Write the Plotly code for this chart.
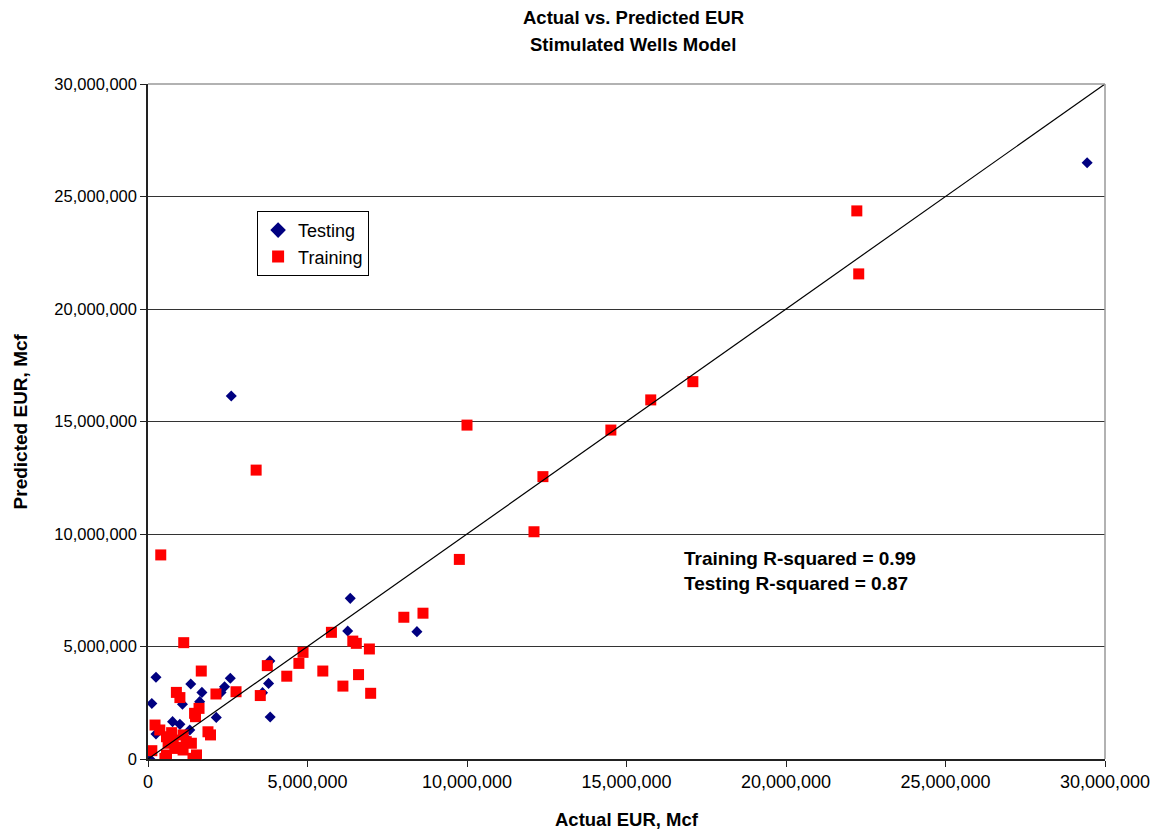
import plotly.graph_objects as go

# Testing (navy diamonds): actual EUR (MMcf), predicted EUR (MMcf)
test_actual_mm = [29.44, 2.61, 6.34, 6.26, 8.43, 3.82, 3.78, 3.59, 3.83, 0.25, 1.34, 2.58,
                  2.40, 2.29, 1.69, 0.12, 1.08, 1.62, 2.14, 0.77, 1.00, 1.31, 0.25, 0.06,
                  0.84, 1.15]
test_pred_mm = [26.50, 16.13, 7.14, 5.69, 5.66, 4.36, 3.36, 2.95, 1.87, 3.63, 3.33, 3.59,
                3.21, 2.96, 2.96, 2.47, 2.43, 2.55, 1.85, 1.66, 1.54, 1.29, 1.11, 0.00,
                0.62, 0.98]

# Training (red squares)
train_actual_mm = [1.12, 1.67, 0.89, 1.00, 2.13, 2.76, 3.52, 3.74, 4.35, 4.73, 4.86, 5.48,
                   5.75, 6.11, 6.42, 6.53, 6.60, 6.94, 6.98, 8.02, 8.62, 9.76, 10.00, 12.10,
                   12.38, 14.51, 15.76, 17.08, 22.22, 22.28, 3.39, 0.40,
                   1.60, 1.46, 1.49, 0.22, 0.37, 1.88, 1.96, 0.74, 0.58, 0.79, 1.10, 1.20,
                   1.36, 0.12, 0.58, 0.89, 1.10, 1.52, 1.41, 0.53, 0.63, 0.84]
train_pred_mm = [5.17, 3.91, 2.96, 2.73, 2.89, 2.99, 2.82, 4.15, 3.68, 4.25, 4.74, 3.91,
                 5.63, 3.24, 5.24, 5.14, 3.75, 4.89, 2.92, 6.30, 6.48, 8.87, 14.84, 10.10,
                 12.55, 14.62, 15.96, 16.77, 24.36, 21.56, 12.84, 9.07,
                 2.25, 2.03, 1.88, 1.51, 1.29, 1.21, 1.07, 1.17, 0.99, 0.84, 1.07, 0.77,
                 0.70, 0.37, 0.18, 0.52, 0.40, 0.18, 0.03, 0.03, 0.70, 0.47]

line_x = [0, 30_000_000]
line_y = [0, 30_000_000]

y_ticks = [0, 5_000_000, 10_000_000, 15_000_000, 20_000_000, 25_000_000, 30_000_000]
x_ticks = y_ticks

M = 1_000_000
fig = go.Figure()
fig.add_trace(go.Scatter(
    x=[v * M for v in test_actual_mm], y=[v * M for v in test_pred_mm],
    mode="markers", name="Testing",
    marker=dict(symbol="diamond", size=8.5, color="#000080", line=dict(width=0)),
))
fig.add_trace(go.Scatter(
    x=[v * M for v in train_actual_mm], y=[v * M for v in train_pred_mm],
    mode="markers", name="Training",
    marker=dict(symbol="square", size=11, color="#FF0000", line=dict(width=0)),
))
fig.add_trace(go.Scatter(
    x=line_x, y=line_y, mode="lines", showlegend=False,
    line=dict(color="black", width=1.2), hoverinfo="skip",
))

font_family = "Liberation Sans, Arial, sans-serif"
fig.update_layout(
    width=1162, height=829,
    margin=dict(l=148, r=50, t=84, b=70),
    paper_bgcolor="white", plot_bgcolor="white",
    font=dict(family=font_family, size=18, color="black"),
    showlegend=True,
    legend=dict(
        x=0.114, y=0.812, xanchor="left", yanchor="top",
        bordercolor="black", borderwidth=1, bgcolor="white",
        font=dict(size=18, family=font_family),
        itemsizing="constant", tracegroupgap=0, itemwidth=30,
    ),
    xaxis=dict(
        range=[0, 30_000_000], tickvals=x_ticks, tickformat=",d",
        showgrid=False, zeroline=False,
        showline=True, linecolor="#222", linewidth=1.5, mirror=False,
        ticks="outside", ticklen=6, tickcolor="#222",
        tickfont=dict(size=18),
    ),
    yaxis=dict(
        range=[0, 30_000_000], tickvals=y_ticks, tickformat=",d",
        showgrid=True, gridcolor="#333", gridwidth=1, zeroline=False,
        showline=True, linecolor="#222", linewidth=1.5,
        ticks="outside", ticklen=6, tickcolor="#222",
        tickfont=dict(size=16.5),
    ),
    shapes=[
        dict(type="line", xref="paper", yref="paper", x0=0, x1=1, y0=1, y1=1,
             line=dict(color="#999", width=1.5)),
        dict(type="line", xref="paper", yref="paper", x0=1, x1=1, y0=0, y1=1,
             line=dict(color="#999", width=1.5)),
    ],
    annotations=[
        dict(text="<b>Actual vs. Predicted EUR</b>", xref="paper", yref="paper",
             x=0.507, y=1.099, xanchor="center", yanchor="middle", showarrow=False,
             font=dict(size=18.5, family=font_family)),
        dict(text="<b>Stimulated Wells Model</b>", xref="paper", yref="paper",
             x=0.507, y=1.058, xanchor="center", yanchor="middle", showarrow=False,
             font=dict(size=18.5, family=font_family)),
        dict(text="<b>Actual EUR, Mcf</b>", xref="paper", yref="paper",
             x=0.501, y=-0.0889, xanchor="center", yanchor="middle", showarrow=False,
             font=dict(size=18.5, family=font_family)),
        dict(text="<b>Predicted EUR, Mcf</b>", xref="paper", yref="paper",
             x=-0.1328, y=0.5, xanchor="center", yanchor="middle", showarrow=False,
             textangle=-90, font=dict(size=19, family=font_family)),
        dict(text="<b>Training R-squared = 0.99<br>Testing R-squared = 0.87</b>",
             xref="paper", yref="paper", x=0.558, y=0.279, xanchor="left", yanchor="middle",
             align="left", showarrow=False, font=dict(size=19, family=font_family)),
    ],
)

fig.write_html("out.html", config={"displayModeBar": False},
               post_script="document.body.style.margin='0px';")
